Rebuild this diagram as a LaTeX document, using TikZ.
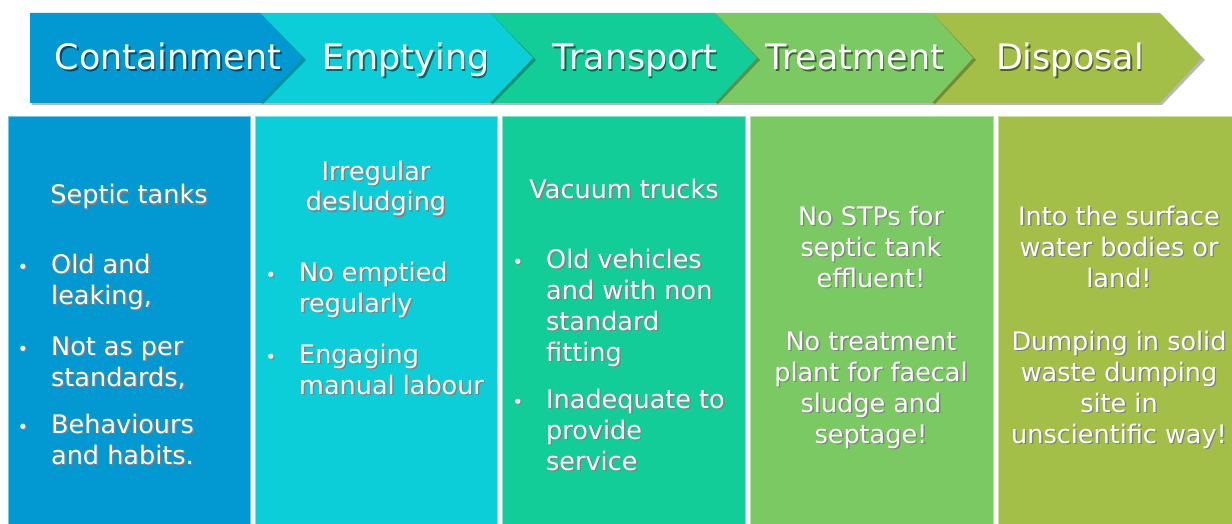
\documentclass[tikz,border=0pt]{standalone}
\usepackage{fontspec}
\setmainfont{DejaVu Sans}
\definecolor{c1}{RGB}{2,153,211}
\definecolor{c2}{RGB}{11,206,216}
\definecolor{c3}{RGB}{18,205,152}
\definecolor{c4}{RGB}{123,201,99}
\definecolor{c5}{RGB}{164,191,72}
\def\shcol{black!50}
\newcommand\tsh[1]{\makebox[0pt][l]{\kern1.4pt\raisebox{-1.6pt}{\color{\shcol}#1}}#1}
\newcommand\bul{\llap{{\fontsize{18}{18}\selectfont\tsh{•}}\hspace{23pt}}}
\tikzset{
  hdr/.style={text=white, font=\fontsize{35}{40}\selectfont, anchor=base, inner sep=0pt},
  body/.style={text=white, font=\fontsize{25.5}{31}\selectfont, inner sep=0pt},
  item/.style={body, anchor=base west, align=left},
  cbody/.style={body, anchor=base, align=center},
  chevsh/.style={fill=black, opacity=0.28},
  colbox/.style={line width=1pt}
}
\begin{document}
\begin{tikzpicture}[x=1pt,y=-1pt]
\useasboundingbox (0,0) rectangle (1232,524);
\clip (0,0) rectangle (1232,524);
\fill[white] (0,0) rectangle (1232,524);
% chevrons, right to left so each lies over the next
\fill[chevsh] (934,15) -- (1162,15) -- (1205,60) -- (1162,105) -- (934,105) -- cycle;
\fill[c5] (932,13) -- (1160,13) -- (1202,58) -- (1160,103) -- (932,103) -- cycle;
\fill[chevsh] (717,15) -- (934,15) -- (976,60) -- (934,105) -- (717,105) -- cycle;
\fill[c4] (715,13) -- (932,13) -- (973,58) -- (932,103) -- (715,103) -- cycle;
\fill[chevsh] (492,15) -- (717,15) -- (760,60) -- (717,105) -- (492,105) -- cycle;
\fill[c3] (490,13) -- (715,13) -- (757,58) -- (715,103) -- (490,103) -- cycle;
\fill[chevsh] (262,15) -- (492,15) -- (536,60) -- (492,105) -- (262,105) -- cycle;
\fill[c2] (260,13) -- (490,13) -- (533,58) -- (490,103) -- (260,103) -- cycle;
\fill[chevsh] (32,15) -- (262,15) -- (306,60) -- (262,105) -- (32,105) -- cycle;
\fill[c1] (30,13) -- (260,13) -- (303,58) -- (260,103) -- (30,103) -- cycle;
% headers
\node[hdr, font=\fontsize{35}{40}\selectfont\def\shcol{c1!50!black}] (h1) at (168,70) {\tsh{Containment}};
\node[hdr, font=\fontsize{35}{40}\selectfont\def\shcol{c2!50!black}] (h2) at (406,70) {\tsh{Emptying}};
\node[hdr, font=\fontsize{35}{40}\selectfont\def\shcol{c3!50!black}] (h3) at (635,70) {\tsh{Transport}};
\node[hdr, font=\fontsize{35}{40}\selectfont\def\shcol{c4!50!black}] (h4) at (855,70) {\tsh{Treatment}};
\node[hdr, font=\fontsize{35}{40}\selectfont\def\shcol{c5!50!black}] (h5) at (1070,70) {\tsh{Disposal}};
% column boxes
\filldraw[colbox, fill=c1, draw=c1!55!white] (8,117) rectangle (250,540);
\filldraw[colbox, fill=c2, draw=c2!55!white] (255,117) rectangle (497,540);
\filldraw[colbox, fill=c3, draw=c3!55!white] (502,117) rectangle (745,540);
\filldraw[colbox, fill=c4, draw=c4!55!white] (750,117) rectangle (993,540);
\filldraw[colbox, fill=c5, draw=c5!55!white] (998,117) rectangle (1245,540);
% column 1 (node positions give the baseline of each node's last line)
\begin{scope}[every node/.append style={font=\fontsize{25.5}{31}\selectfont\def\shcol{c1!50!black}}]
\node[cbody] (t1) at (129,204) {\tsh{Septic tanks}};
\node[item] (b11) at (51,304) {\bul\tsh{Old and}\\\tsh{leaking,}};
\node[item] (b12) at (51,386) {\bul\tsh{Not as per}\\\tsh{standards,}};
\node[item] (b13) at (51,464) {\bul\tsh{Behaviours}\\\tsh{and habits.}};
\end{scope}
% column 2
\begin{scope}[every node/.append style={font=\fontsize{25.5}{31}\selectfont\def\shcol{c2!50!black}}]
\node[cbody] (t2) at (376,211) {\tsh{Irregular}\\\tsh{desludging}};
\node[item] (b21) at (299,312) {\bul\tsh{No emptied}\\\tsh{regularly}};
\node[item] (b22) at (299,394) {\bul\tsh{Engaging}\\\tsh{manual labour}};
\end{scope}
% column 3
\begin{scope}[every node/.append style={font=\fontsize{25.5}{31}\selectfont\def\shcol{c3!50!black}}]
\node[cbody] (t3) at (624,198) {\tsh{Vacuum trucks}};
\node[item] (b31) at (546,361) {\bul\tsh{Old vehicles}\\\tsh{and with non}\\\tsh{standard}\\\tsh{fitting}};
\node[item] (b32) at (546,470) {\bul\tsh{Inadequate to}\\\tsh{provide}\\\tsh{service}};
\end{scope}
% column 4
\begin{scope}[every node/.append style={font=\fontsize{25.5}{31}\selectfont\def\shcol{c4!50!black}}]
\node[cbody] (t41) at (871,287) {\tsh{No STPs for}\\\tsh{septic tank}\\\tsh{effluent!}};
\node[cbody] (t42) at (871,443) {\tsh{No treatment}\\\tsh{plant for faecal}\\\tsh{sludge and}\\\tsh{septage!}};
\end{scope}
% column 5
\begin{scope}[every node/.append style={font=\fontsize{25.5}{31}\selectfont\def\shcol{c5!50!black}}]
\node[cbody] (t51) at (1119,287) {\tsh{Into the surface}\\\tsh{water bodies or}\\\tsh{land!}};
\node[cbody] (t52) at (1119,443) {\tsh{Dumping in solid}\\\tsh{waste dumping}\\\tsh{site in}\\\tsh{unscientific way!}};
\end{scope}
\end{tikzpicture}
\end{document}
